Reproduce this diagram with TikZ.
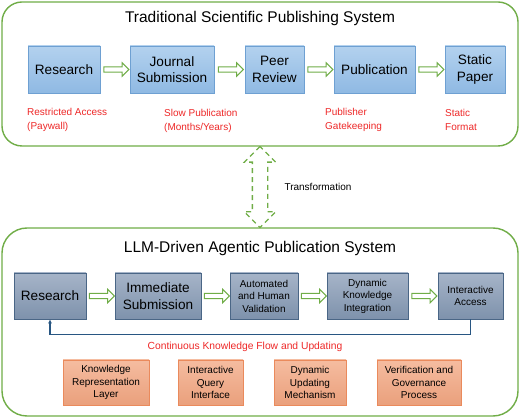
\documentclass[tikz,border=0pt]{standalone}
\usepackage{fontspec}
\setmainfont{Liberation Sans}
\usepackage{xcolor}
\usetikzlibrary{shapes.arrows,arrows.meta}
\definecolor{framegreen}{RGB}{112,173,71}
\definecolor{flowred}{RGB}{238,40,40}
\definecolor{bluefill}{RGB}{160,198,234}
\definecolor{bluedark}{RGB}{143,185,227}
\definecolor{blueline}{RGB}{110,160,210}
\definecolor{slatetop}{RGB}{166,180,200}
\definecolor{slatebot}{RGB}{126,146,172}
\definecolor{slateline}{RGB}{74,102,134}
\definecolor{peachtop}{RGB}{245,188,160}
\definecolor{peachbot}{RGB}{234,160,124}
\definecolor{peachline}{RGB}{234,138,92}
\definecolor{loopblue}{RGB}{40,86,130}

\begin{document}
\begin{tikzpicture}[x=1pt,y=-1pt,
	panel/.style={draw=framegreen,line width=1.4pt,rectangle,fill=white},
	heading/.style={font=\fontsize{15.5}{18}\selectfont},
	oldbox/.style={draw=blueline,line width=0.8pt,top color=bluefill!80!white,bottom color=bluedark,
		minimum height=47pt,align=center,font=\fontsize{13.6}{16.7}\selectfont},
	newbox/.style={draw=slateline,line width=0.8pt,top color=slatetop,bottom color=slatebot,
		minimum height=46pt,align=center},
	bigtext/.style={font=\fontsize{13.6}{16.7}\selectfont},
	smalltext/.style={font=\fontsize{10}{12.5}\selectfont},
	partbox/.style={draw=peachline,line width=0.8pt,top color=peachtop,bottom color=peachbot,
		minimum height=45pt,align=center,font=\fontsize{10}{12.5}\selectfont},
	issue/.style={text=flowred,anchor=west,align=left,inner sep=0pt,font=\fontsize{10}{14}\selectfont},
	flowarrow/.style={single arrow,draw=framegreen,fill=white,line width=1pt,inner sep=2.2pt,
		single arrow head extend=4pt,minimum height=25pt},
	transarrow/.style={double arrow,draw=framegreen,line width=1.3pt,dash pattern=on 5pt off 4pt,
		inner sep=7pt,double arrow head extend=8pt,minimum height=81pt,shape border rotate=90},
	feedback/.style={draw=loopblue,line width=1.1pt,-{Latex[length=4pt,width=4pt]}}]
	\useasboundingbox (0,0) rectangle (520,419);
	% traditional system
	\node[panel,rounded corners=20pt,minimum width=516pt,minimum height=144pt] (trad) at (260,74) {};
	\node[heading] (tradtitle) at (260,18) {Traditional Scientific Publishing System};
	\node[oldbox,minimum width=72pt] (res1) at (64,69.5) {Research};
	\node[oldbox,minimum width=84pt] (jour) at (172,69.5) {Journal\\Submission};
	\node[oldbox,minimum width=59pt] (peer) at (274.5,69.5) {Peer\\Review};
	\node[oldbox,minimum width=81pt] (pub) at (374.5,69.5) {Publication};
	\node[oldbox,minimum width=60pt] (stat) at (475,69.5) {Static\\Paper};
	\path (res1.east) -- node[flowarrow] {} (jour.west);
	\path (jour.east) -- node[flowarrow] {} (peer.west);
	\path (peer.east) -- node[flowarrow] {} (pub.west);
	\path (pub.east) -- node[flowarrow] {} (stat.west);
	\node[issue] (iss1) at (27,119.5) {Restricted Access\\(Paywall)};
	\node[issue] (iss2) at (164,120.5) {Slow Publication\\(Months/Years)};
	\node[issue] (iss3) at (325,119.5) {Publisher\\Gatekeeping};
	\node[issue] (iss4) at (445,119.5) {Static\\Format};
	% llm system
	\node[panel,rounded corners=25pt,minimum width=516pt,minimum height=188pt] (llm) at (260,322) {};
	\node[heading] (llmtitle) at (260,248) {LLM-Driven Agentic Publication System};
	\path (trad.south) -- node[transarrow] (trans) {} (llm.north);
	\node[anchor=west,font=\fontsize{10}{12}\selectfont] (translabel) at (281,187) {Transformation};
	\node[newbox,bigtext,minimum width=72pt] (res2) at (50,296) {Research};
	\node[newbox,bigtext,minimum width=86pt] (imm) at (158,296) {Immediate\\Submission};
	\node[newbox,smalltext,minimum width=68pt] (auto) at (264,296) {Automated\\and Human\\Validation};
	\node[newbox,smalltext,minimum width=81pt] (dyn) at (367.5,296) {Dynamic\\Knowledge\\Integration};
	\node[newbox,smalltext,minimum width=65pt] (inter) at (470.5,296) {Interactive\\Access};
	\path (res2.east) -- node[flowarrow] {} (imm.west);
	\path (imm.east) -- node[flowarrow] {} (auto.west);
	\path (auto.east) -- node[flowarrow] {} (dyn.west);
	\path (dyn.east) -- node[flowarrow] {} (inter.west);
	\draw[feedback] (inter.south) -- ++(0,15) -| (res2.south);
	\node[text=flowred,font=\fontsize{10.3}{12}\selectfont] (flowlabel) at (245,347) {Continuous Knowledge Flow and Updating};
	\node[partbox,minimum width=86pt] (krl) at (106,382.5) {Knowledge\\Representation\\Layer};
	\node[partbox,minimum width=65pt] (iqi) at (210.5,382.5) {Interactive\\Query\\Interface};
	\node[partbox,minimum width=72pt] (dum) at (310,382.5) {Dynamic\\Updating\\Mechanism};
	\node[partbox,minimum width=84pt] (vgp) at (419,382.5) {Verification and\\Governance\\Process};
\end{tikzpicture}
\end{document}
